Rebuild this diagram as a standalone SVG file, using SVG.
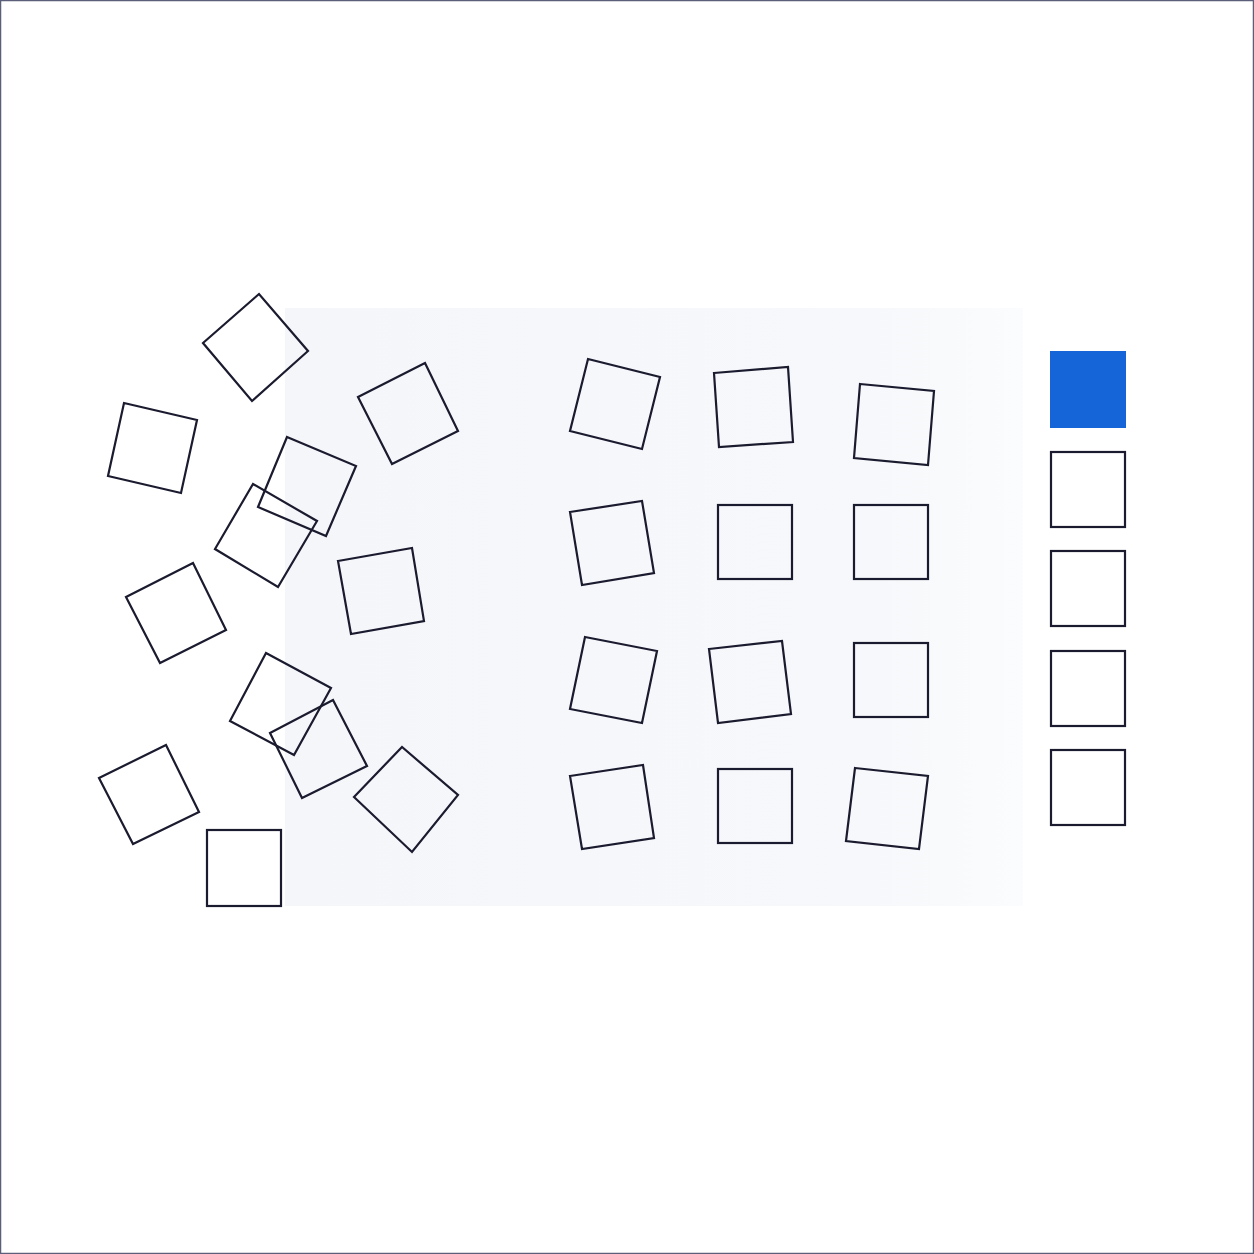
<svg xmlns="http://www.w3.org/2000/svg" width="1254" height="1254" viewBox="0 0 1254 1254">
<defs>
<linearGradient id="panelGrad" x1="0" y1="0" x2="1" y2="0">
<stop offset="0" stop-color="#f5f6fa"/>
<stop offset="0.8" stop-color="#f7f8fb"/>
<stop offset="1" stop-color="#fbfcfd"/>
</linearGradient>
<style>
.sq{fill:none;stroke:#1b1b2f;stroke-width:2.2;stroke-linejoin:miter}
.hl{fill:#1565d8;stroke:none}
</style>
</defs>
<rect x="0" y="0" width="1254" height="1254" fill="#ffffff"/>
<rect x="285" y="308" width="738" height="598" fill="url(#panelGrad)"/>
<rect x="0.5" y="0.5" width="1253" height="1253" fill="none" stroke="#5c5f7a" stroke-width="1.5"/>

<g id="scattered">
<g id="s1"><polygon class="sq" points="203,343 259,294 308,351 252,401"/></g>
<g id="s2"><polygon class="sq" points="124,403 197,420 181,493 108,476"/></g>
<g id="s3"><polygon class="sq" points="358,397 425,363 458,431 392,464"/></g>
<g id="s4"><polygon class="sq" points="287,437 356,466 326,536 258,507"/></g>
<g id="s5"><polygon class="sq" points="253,484 317,521 278,587 215,549"/></g>
<g id="s6"><polygon class="sq" points="126,597 193,563 226,630 160,663"/></g>
<g id="s7"><polygon class="sq" points="338,561 412,548 424,621 351,634"/></g>
<g id="s8"><polygon class="sq" points="266,653 331,688 294,755 230,721"/></g>
<g id="s9"><polygon class="sq" points="270,733 333,700 367,766 302,798"/></g>
<g id="s10"><polygon class="sq" points="99,778 166,745 199,812 133,844"/></g>
<g id="s11"><polygon class="sq" points="354,797 402,747 458,795 412,852"/></g>
<g id="s12"><rect class="sq" x="207" y="830" width="74" height="76"/></g>
</g>

<g id="grid">
<g id="g11"><polygon class="sq" points="588,359 660,377 642,449 570,431"/></g>
<g id="g12"><polygon class="sq" points="714,373 788,367 793,442 719,447"/></g>
<g id="g13"><polygon class="sq" points="860,384 934,391 928,465 854,458"/></g>
<g id="g21"><polygon class="sq" points="570,512 642,501 654,573 582,585"/></g>
<g id="g22"><rect class="sq" x="718" y="505" width="74" height="74"/></g>
<g id="g23"><rect class="sq" x="854" y="505" width="74" height="74"/></g>
<g id="g31"><polygon class="sq" points="585,637 657,651 642,723 570,709"/></g>
<g id="g32"><polygon class="sq" points="709,649 782,641 791,714 718,723"/></g>
<g id="g33"><rect class="sq" x="854" y="643" width="74" height="74"/></g>
<g id="g41"><polygon class="sq" points="570,776 643,765 654,838 582,849"/></g>
<g id="g42"><rect class="sq" x="718" y="769" width="74" height="74"/></g>
<g id="g43"><polygon class="sq" points="855,768 928,776 919,849 846,841"/></g>
</g>

<g id="column">
<g id="c1"><rect class="hl" x="1050" y="351" width="76" height="77"/></g>
<g id="c2"><rect class="sq" x="1051" y="452" width="74" height="75"/></g>
<g id="c3"><rect class="sq" x="1051" y="551" width="74" height="75"/></g>
<g id="c4"><rect class="sq" x="1051" y="651" width="74" height="75"/></g>
<g id="c5"><rect class="sq" x="1051" y="750" width="74" height="75"/></g>
</g>
<g id="connectors"/>
</svg>
